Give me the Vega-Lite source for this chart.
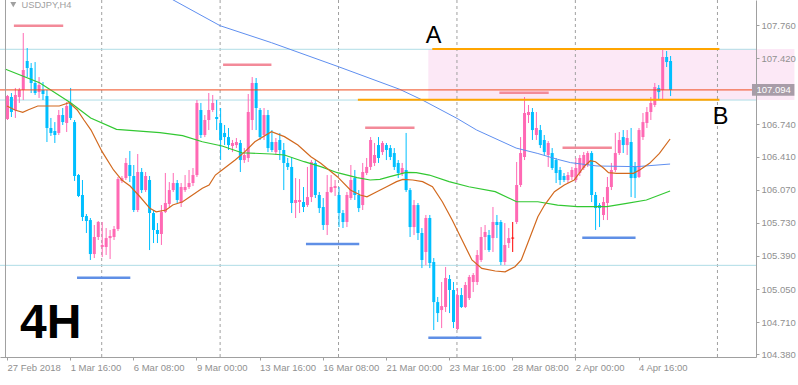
{
"$schema": "https://vega.github.io/schema/vega-lite/v6.json",
"width": 756, "height": 357,
"autosize": {"type": "none"},
"padding": {"left": 0, "top": 0, "right": 42, "bottom": 28},
"background": "white",
"config": {"view": {"stroke": null}, "font": "Liberation Sans", "axis": {"labelOverlap": false, "grid": false}},
"datasets": {
"candles": [
{"i":0,"t":"up","o":106.795,"h":107.042,"l":106.785,"c":107.031},
{"i":1,"t":"down","o":107.021,"h":107.062,"l":106.816,"c":106.867},
{"i":2,"t":"up","o":106.888,"h":107.114,"l":106.806,"c":107.042},
{"i":3,"t":"up","o":107.021,"h":107.114,"l":106.960,"c":107.093},
{"i":4,"t":"up","o":107.093,"h":107.678,"l":106.990,"c":107.298},
{"i":5,"t":"down","o":107.391,"h":107.524,"l":107.226,"c":107.319},
{"i":6,"t":"down","o":107.319,"h":107.370,"l":107.062,"c":107.165},
{"i":7,"t":"down","o":107.165,"h":107.380,"l":107.042,"c":107.062},
{"i":8,"t":"up","o":107.072,"h":107.226,"l":107.011,"c":107.144},
{"i":9,"t":"down","o":107.093,"h":107.175,"l":106.990,"c":107.052},
{"i":10,"t":"down","o":107.031,"h":107.093,"l":106.559,"c":106.703},
{"i":11,"t":"down","o":106.703,"h":106.806,"l":106.621,"c":106.652},
{"i":12,"t":"down","o":106.672,"h":106.764,"l":106.549,"c":106.631},
{"i":13,"t":"up","o":106.652,"h":106.888,"l":106.631,"c":106.836},
{"i":14,"t":"down","o":106.836,"h":106.908,"l":106.734,"c":106.764},
{"i":15,"t":"up","o":106.754,"h":106.970,"l":106.662,"c":106.929},
{"i":16,"t":"down","o":106.960,"h":107.114,"l":106.785,"c":106.806},
{"i":17,"t":"down","o":106.764,"h":106.785,"l":106.159,"c":106.210},
{"i":18,"t":"down","o":106.220,"h":106.231,"l":105.994,"c":106.005},
{"i":19,"t":"down","o":106.015,"h":106.169,"l":105.748,"c":105.789},
{"i":20,"t":"down","o":105.799,"h":105.820,"l":105.625,"c":105.748},
{"i":21,"t":"down","o":105.758,"h":105.779,"l":105.348,"c":105.409},
{"i":22,"t":"up","o":105.409,"h":105.707,"l":105.368,"c":105.584},
{"i":23,"t":"up","o":105.584,"h":105.748,"l":105.553,"c":105.738},
{"i":24,"t":"up","o":105.481,"h":105.738,"l":105.378,"c":105.502},
{"i":25,"t":"up","o":105.481,"h":105.676,"l":105.399,"c":105.573},
{"i":26,"t":"up","o":105.573,"h":105.656,"l":105.358,"c":105.594},
{"i":27,"t":"up","o":105.584,"h":105.697,"l":105.553,"c":105.666},
{"i":28,"t":"up","o":105.666,"h":106.200,"l":105.645,"c":106.179},
{"i":29,"t":"up","o":106.159,"h":106.210,"l":106.138,"c":106.189},
{"i":30,"t":"up","o":106.189,"h":106.395,"l":106.169,"c":106.344},
{"i":31,"t":"down","o":106.323,"h":106.467,"l":106.148,"c":106.210},
{"i":32,"t":"down","o":106.210,"h":106.323,"l":105.840,"c":105.861},
{"i":33,"t":"up","o":105.861,"h":106.436,"l":105.840,"c":106.251},
{"i":34,"t":"down","o":106.251,"h":106.292,"l":106.035,"c":106.066},
{"i":35,"t":"up","o":106.066,"h":106.251,"l":106.046,"c":106.210},
{"i":36,"t":"down","o":106.169,"h":106.210,"l":105.450,"c":105.830},
{"i":37,"t":"down","o":105.830,"h":105.861,"l":105.522,"c":105.656},
{"i":38,"t":"down","o":105.656,"h":105.727,"l":105.522,"c":105.615},
{"i":39,"t":"up","o":105.615,"h":105.912,"l":105.502,"c":105.840},
{"i":40,"t":"up","o":105.840,"h":106.241,"l":105.830,"c":105.933},
{"i":41,"t":"up","o":105.923,"h":106.148,"l":105.892,"c":106.066},
{"i":42,"t":"up","o":106.066,"h":106.241,"l":106.046,"c":106.138},
{"i":43,"t":"down","o":106.138,"h":106.169,"l":105.933,"c":105.964},
{"i":44,"t":"up","o":105.933,"h":106.138,"l":105.892,"c":106.097},
{"i":45,"t":"up","o":106.066,"h":106.220,"l":106.046,"c":106.097},
{"i":46,"t":"up","o":106.097,"h":106.272,"l":106.077,"c":106.138},
{"i":47,"t":"up","o":106.138,"h":106.292,"l":106.107,"c":106.220},
{"i":48,"t":"up","o":106.220,"h":106.990,"l":106.200,"c":106.960},
{"i":49,"t":"down","o":106.888,"h":106.960,"l":106.600,"c":106.631},
{"i":50,"t":"up","o":106.631,"h":106.836,"l":106.610,"c":106.785},
{"i":51,"t":"up","o":106.785,"h":107.062,"l":106.682,"c":106.888},
{"i":52,"t":"up","o":106.888,"h":107.042,"l":106.867,"c":106.960},
{"i":53,"t":"down","o":106.816,"h":106.990,"l":106.682,"c":106.795},
{"i":54,"t":"down","o":106.754,"h":106.908,"l":106.374,"c":106.580},
{"i":55,"t":"down","o":106.652,"h":106.734,"l":106.528,"c":106.610},
{"i":56,"t":"down","o":106.610,"h":106.703,"l":106.477,"c":106.528},
{"i":57,"t":"up","o":106.518,"h":106.580,"l":106.456,"c":106.549},
{"i":58,"t":"up","o":106.528,"h":106.600,"l":106.497,"c":106.559},
{"i":59,"t":"down","o":106.549,"h":106.580,"l":106.251,"c":106.374},
{"i":60,"t":"up","o":106.374,"h":106.497,"l":106.344,"c":106.426},
{"i":61,"t":"up","o":106.395,"h":107.052,"l":106.354,"c":106.867},
{"i":62,"t":"up","o":106.785,"h":107.226,"l":106.682,"c":107.165},
{"i":63,"t":"down","o":107.165,"h":107.216,"l":106.682,"c":106.908},
{"i":64,"t":"down","o":106.888,"h":106.908,"l":106.580,"c":106.610},
{"i":65,"t":"up","o":106.631,"h":106.908,"l":106.580,"c":106.836},
{"i":66,"t":"down","o":106.836,"h":106.888,"l":106.456,"c":106.497},
{"i":67,"t":"down","o":106.559,"h":106.682,"l":106.456,"c":106.477},
{"i":68,"t":"up","o":106.456,"h":106.600,"l":106.426,"c":106.559},
{"i":69,"t":"down","o":106.580,"h":106.652,"l":106.374,"c":106.477},
{"i":70,"t":"down","o":106.477,"h":106.549,"l":106.066,"c":106.344},
{"i":71,"t":"down","o":106.344,"h":106.395,"l":106.272,"c":106.303},
{"i":72,"t":"down","o":106.303,"h":106.405,"l":105.830,"c":105.933},
{"i":73,"t":"up","o":105.933,"h":106.189,"l":105.779,"c":105.964},
{"i":74,"t":"up","o":105.943,"h":106.179,"l":105.830,"c":105.964},
{"i":75,"t":"down","o":105.943,"h":106.097,"l":105.840,"c":105.892},
{"i":76,"t":"up","o":105.912,"h":106.303,"l":105.892,"c":105.994},
{"i":77,"t":"up","o":105.994,"h":106.374,"l":105.943,"c":106.354},
{"i":78,"t":"down","o":106.344,"h":106.374,"l":105.984,"c":106.015},
{"i":79,"t":"down","o":106.015,"h":106.046,"l":105.830,"c":105.881},
{"i":80,"t":"down","o":105.892,"h":105.984,"l":105.656,"c":105.707},
{"i":81,"t":"up","o":105.707,"h":106.220,"l":105.604,"c":106.046},
{"i":82,"t":"up","o":106.046,"h":106.220,"l":106.035,"c":106.097},
{"i":83,"t":"up","o":106.087,"h":106.169,"l":106.005,"c":106.107},
{"i":84,"t":"down","o":106.015,"h":106.097,"l":105.686,"c":105.830},
{"i":85,"t":"down","o":105.830,"h":105.861,"l":105.676,"c":105.738},
{"i":86,"t":"up","o":105.738,"h":106.046,"l":105.686,"c":106.015},
{"i":87,"t":"up","o":105.984,"h":106.323,"l":105.964,"c":106.169},
{"i":88,"t":"down","o":106.189,"h":106.272,"l":105.964,"c":106.015},
{"i":89,"t":"down","o":106.015,"h":106.066,"l":105.840,"c":105.881},
{"i":90,"t":"up","o":105.912,"h":106.344,"l":105.861,"c":106.251},
{"i":91,"t":"up","o":106.241,"h":106.395,"l":106.220,"c":106.303},
{"i":92,"t":"up","o":106.303,"h":106.610,"l":106.272,"c":106.580},
{"i":93,"t":"up","o":106.344,"h":106.549,"l":106.313,"c":106.426},
{"i":94,"t":"down","o":106.528,"h":106.610,"l":106.344,"c":106.395},
{"i":95,"t":"up","o":106.456,"h":106.569,"l":106.426,"c":106.549},
{"i":96,"t":"down","o":106.528,"h":106.549,"l":106.374,"c":106.477},
{"i":97,"t":"down","o":106.497,"h":106.528,"l":106.374,"c":106.405},
{"i":98,"t":"down","o":106.446,"h":106.497,"l":106.272,"c":106.303},
{"i":99,"t":"down","o":106.344,"h":106.374,"l":106.189,"c":106.241},
{"i":100,"t":"up","o":106.241,"h":106.344,"l":106.210,"c":106.292},
{"i":101,"t":"down","o":106.272,"h":106.652,"l":106.046,"c":106.066},
{"i":102,"t":"down","o":106.066,"h":106.087,"l":105.584,"c":105.686},
{"i":103,"t":"up","o":105.686,"h":105.964,"l":105.604,"c":105.912},
{"i":104,"t":"down","o":105.912,"h":105.933,"l":105.553,"c":105.625},
{"i":105,"t":"down","o":105.625,"h":105.676,"l":105.265,"c":105.348},
{"i":106,"t":"up","o":105.430,"h":105.810,"l":105.296,"c":105.779},
{"i":107,"t":"down","o":105.779,"h":105.810,"l":105.265,"c":105.317},
{"i":108,"t":"down","o":105.327,"h":105.368,"l":104.629,"c":104.916},
{"i":109,"t":"down","o":104.916,"h":104.968,"l":104.711,"c":104.803},
{"i":110,"t":"up","o":104.834,"h":105.122,"l":104.649,"c":104.875},
{"i":111,"t":"up","o":104.865,"h":105.276,"l":104.814,"c":105.163},
{"i":112,"t":"down","o":105.153,"h":105.194,"l":104.803,"c":105.040},
{"i":113,"t":"down","o":105.040,"h":105.122,"l":104.649,"c":104.711},
{"i":114,"t":"up","o":104.639,"h":105.060,"l":104.629,"c":104.988},
{"i":115,"t":"down","o":104.988,"h":105.060,"l":104.855,"c":104.865},
{"i":116,"t":"up","o":104.865,"h":105.122,"l":104.855,"c":105.091},
{"i":117,"t":"up","o":104.957,"h":105.194,"l":104.937,"c":105.173},
{"i":118,"t":"up","o":105.122,"h":105.214,"l":105.019,"c":105.194},
{"i":119,"t":"up","o":105.122,"h":105.450,"l":105.091,"c":105.399},
{"i":120,"t":"up","o":105.348,"h":105.686,"l":105.327,"c":105.584},
{"i":121,"t":"up","o":105.584,"h":105.707,"l":105.450,"c":105.635},
{"i":122,"t":"down","o":105.604,"h":105.656,"l":105.430,"c":105.450},
{"i":123,"t":"up","o":105.573,"h":105.892,"l":105.430,"c":105.738},
{"i":124,"t":"down","o":105.738,"h":105.810,"l":105.573,"c":105.707},
{"i":125,"t":"down","o":105.738,"h":105.758,"l":105.296,"c":105.327},
{"i":126,"t":"up","o":105.327,"h":105.727,"l":105.296,"c":105.502},
{"i":127,"t":"up","o":105.522,"h":105.676,"l":105.471,"c":105.573},
{"i":128,"t":"doji","o":105.578,"h":105.738,"l":105.430,"c":105.568},
{"i":129,"t":"up","o":105.738,"h":106.354,"l":105.717,"c":106.118},
{"i":130,"t":"up","o":106.118,"h":106.610,"l":106.097,"c":106.446},
{"i":131,"t":"up","o":106.405,"h":107.021,"l":106.374,"c":106.857},
{"i":132,"t":"up","o":106.836,"h":106.939,"l":106.754,"c":106.867},
{"i":133,"t":"down","o":106.867,"h":106.908,"l":106.580,"c":106.682},
{"i":134,"t":"up","o":106.631,"h":106.867,"l":106.580,"c":106.703},
{"i":135,"t":"down","o":106.682,"h":106.734,"l":106.497,"c":106.528},
{"i":136,"t":"down","o":106.580,"h":106.631,"l":106.426,"c":106.456},
{"i":137,"t":"up","o":106.426,"h":106.569,"l":106.303,"c":106.549},
{"i":138,"t":"down","o":106.446,"h":106.497,"l":106.272,"c":106.292},
{"i":139,"t":"down","o":106.374,"h":106.395,"l":106.138,"c":106.241},
{"i":140,"t":"down","o":106.272,"h":106.303,"l":106.118,"c":106.169},
{"i":141,"t":"down","o":106.210,"h":106.241,"l":106.148,"c":106.169},
{"i":142,"t":"up","o":106.169,"h":106.251,"l":106.138,"c":106.220},
{"i":143,"t":"up","o":106.200,"h":106.303,"l":106.169,"c":106.272},
{"i":144,"t":"up","o":106.169,"h":106.395,"l":106.148,"c":106.292},
{"i":145,"t":"up","o":106.241,"h":106.426,"l":106.210,"c":106.395},
{"i":146,"t":"up","o":106.292,"h":106.456,"l":106.272,"c":106.426},
{"i":147,"t":"up","o":106.323,"h":106.466,"l":106.303,"c":106.446},
{"i":148,"t":"down","o":106.446,"h":106.466,"l":105.943,"c":106.015},
{"i":149,"t":"down","o":106.015,"h":106.046,"l":105.656,"c":105.881},
{"i":150,"t":"down","o":105.912,"h":105.933,"l":105.686,"c":105.881},
{"i":151,"t":"up","o":105.810,"h":105.994,"l":105.758,"c":105.943},
{"i":152,"t":"up","o":105.933,"h":106.200,"l":105.758,"c":106.097},
{"i":153,"t":"up","o":106.097,"h":106.344,"l":106.066,"c":106.272},
{"i":154,"t":"up","o":106.272,"h":106.652,"l":106.251,"c":106.446},
{"i":155,"t":"up","o":106.446,"h":106.662,"l":106.426,"c":106.580},
{"i":156,"t":"down","o":106.610,"h":106.682,"l":106.446,"c":106.528},
{"i":157,"t":"up","o":106.528,"h":106.682,"l":106.426,"c":106.600},
{"i":158,"t":"down","o":106.559,"h":106.703,"l":105.994,"c":106.189},
{"i":159,"t":"down","o":106.313,"h":106.354,"l":105.984,"c":106.189},
{"i":160,"t":"up","o":106.200,"h":106.703,"l":106.189,"c":106.682},
{"i":161,"t":"up","o":106.610,"h":106.857,"l":106.580,"c":106.764},
{"i":162,"t":"up","o":106.754,"h":106.918,"l":106.703,"c":106.867},
{"i":163,"t":"up","o":106.867,"h":107.021,"l":106.785,"c":106.960},
{"i":164,"t":"up","o":106.939,"h":107.165,"l":106.918,"c":107.124},
{"i":165,"t":"down","o":107.114,"h":107.144,"l":106.990,"c":107.072},
{"i":166,"t":"up","o":107.093,"h":107.514,"l":106.990,"c":107.432},
{"i":167,"t":"down","o":107.432,"h":107.493,"l":107.329,"c":107.380},
{"i":168,"t":"down","o":107.391,"h":107.442,"l":107.031,"c":107.094}
],
"maBlue": [
{"i":37,"v":108.14},{"i":42,"v":108.02},{"i":54,"v":107.753},{"i":67,"v":107.579},{"i":84,"v":107.332},{"i":99.5,"v":107.1},{"i":105.25,"v":106.99},{"i":114,"v":106.802},{"i":119,"v":106.682},{"i":129,"v":106.497},{"i":134.5,"v":106.441},{"i":139.5,"v":106.381},{"i":142.8,"v":106.347},{"i":149.5,"v":106.313},{"i":159.5,"v":106.306},{"i":168,"v":106.333}
],
"maGreen": [
{"i":-0.5,"v":107.309},{"i":8.25,"v":107.168},{"i":16.2,"v":106.96},{"i":21.2,"v":106.806},{"i":27.75,"v":106.689},{"i":38.75,"v":106.655},{"i":44.5,"v":106.624},{"i":49.5,"v":106.562},{"i":54.5,"v":106.518},{"i":59.5,"v":106.449},{"i":67,"v":106.436},{"i":70.3,"v":106.426},{"i":75.3,"v":106.357},{"i":79.5,"v":106.306},{"i":83.7,"v":106.244},{"i":88.7,"v":106.193},{"i":92,"v":106.169},{"i":94.5,"v":106.176},{"i":97,"v":106.203},{"i":101.2,"v":106.248},{"i":103.7,"v":106.244},{"i":107,"v":106.22},{"i":112,"v":106.152},{"i":117,"v":106.1},{"i":123.7,"v":106.049},{"i":129.1,"v":105.946},{"i":134.5,"v":105.946},{"i":139.5,"v":105.912},{"i":144.5,"v":105.895},{"i":152,"v":105.895},{"i":157,"v":105.93},{"i":162,"v":105.964},{"i":168,"v":106.056}
],
"maOrange": [
{"i":0,"v":106.929},{"i":2,"v":106.888},{"i":4,"v":106.864},{"i":5.3,"v":106.888},{"i":7.8,"v":106.929},{"i":13.25,"v":106.929},{"i":15.75,"v":106.963},{"i":17.8,"v":106.888},{"i":19.5,"v":106.785},{"i":21.3,"v":106.682},{"i":24.1,"v":106.46},{"i":27,"v":106.272},{"i":29.1,"v":106.169},{"i":31.2,"v":106.107},{"i":33.7,"v":105.997},{"i":36.2,"v":105.878},{"i":37.8,"v":105.843},{"i":40.3,"v":105.861},{"i":42,"v":105.912},{"i":44.5,"v":105.946},{"i":47,"v":106.015},{"i":49.5,"v":106.084},{"i":51.2,"v":106.118},{"i":52.8,"v":106.22},{"i":54.5,"v":106.272},{"i":57.8,"v":106.374},{"i":60.3,"v":106.46},{"i":62.8,"v":106.562},{"i":67,"v":106.665},{"i":70.3,"v":106.614},{"i":73.7,"v":106.528},{"i":77,"v":106.408},{"i":79.5,"v":106.34},{"i":83.7,"v":106.203},{"i":87,"v":106.066},{"i":89.5,"v":106.015},{"i":91.2,"v":105.997},{"i":93.7,"v":106.049},{"i":96.2,"v":106.1},{"i":98.7,"v":106.152},{"i":100.3,"v":106.176},{"i":102.8,"v":106.169},{"i":105.3,"v":106.152},{"i":107.8,"v":106.1},{"i":110.3,"v":105.946},{"i":112.8,"v":105.758},{"i":115.3,"v":105.553},{"i":117.8,"v":105.348},{"i":120.3,"v":105.262},{"i":123.7,"v":105.235},{"i":126.2,"v":105.227},{"i":128.7,"v":105.279},{"i":130.3,"v":105.348},{"i":134.5,"v":105.792},{"i":136.2,"v":105.912},{"i":138.7,"v":106.049},{"i":141.2,"v":106.118},{"i":143.7,"v":106.169},{"i":146.2,"v":106.306},{"i":147.8,"v":106.367},{"i":149.1,"v":106.357},{"i":151.2,"v":106.289},{"i":152.4,"v":106.244},{"i":154.5,"v":106.238},{"i":158.7,"v":106.238},{"i":160.3,"v":106.272},{"i":162.8,"v":106.34},{"i":165.3,"v":106.443},{"i":168,"v":106.59}
]
},
"layer": [
{"data": {"name": "candles"},
 "mark": {"type": "rule", "opacity": 0},
 "encoding": {
  "x": {"field": "i", "type": "quantitative", "title": null, "scale": {"domain": [-0.5, 188.5], "nice": false, "zero": false},
   "axis": {"orient": "bottom", "title": null, "grid": false, "values": [0, 16, 32, 48, 64, 80, 96, 112, 128, 144, 160], "tickCount": 40,
    "labelExpr": "datum.value == 0 ? '27 Feb 2018' : datum.value == 16 ? '1 Mar 16:00' : datum.value == 32 ? '6 Mar 08:00' : datum.value == 48 ? '9 Mar 00:00' : datum.value == 64 ? '13 Mar 16:00' : datum.value == 80 ? '16 Mar 08:00' : datum.value == 96 ? '21 Mar 00:00' : datum.value == 112 ? '23 Mar 16:00' : datum.value == 128 ? '28 Mar 08:00' : datum.value == 144 ? '2 Apr 00:00' : '4 Apr 16:00'",
    "labelAlign": "left", "labelBaseline": "top", "labelPadding": 2, "labelFont": "Liberation Sans", "labelFontSize": 9.5, "labelColor": "#909090",
    "labelFlush": false, "labelOverlap": false, "labelBound": false, "tickSize": 3, "tickColor": "#a0a0a0", "domainColor": "#a0a0a0", "zindex": 1}},
  "y": {"field": "l", "type": "quantitative", "title": null, "scale": {"domain": [104.352, 108.017], "nice": false, "zero": false},
   "axis": {"orient": "right", "title": null, "grid": false, "values": [107.76, 107.42, 106.74, 106.41, 106.07, 105.73, 105.39, 105.05, 104.71, 104.38], "tickCount": 40,
    "format": ".3f", "labelFont": "Liberation Sans", "labelFontSize": 9.5, "labelColor": "#909090", "labelPadding": 2, "labelBaseline": "middle",
    "labelFlush": false, "labelOverlap": false, "tickSize": 3, "tickColor": "#a0a0a0", "domainColor": "#a0a0a0", "zindex": 1}},
  "y2": {"field": "h"}}},
{"data": {"values": [{"a": 106.75, "b": 199.5, "top": 107.514, "bot": 106.99}]},
 "mark": {"type": "rect", "color": "#fce8f6", "clip": false},
 "encoding": {
  "x": {"field": "a", "type": "quantitative", "title": null, "scale": {"domain": [-0.5, 188.5], "nice": false, "zero": false}},
  "x2": {"field": "b"},
  "y": {"field": "top", "type": "quantitative", "title": null, "scale": {"domain": [104.352, 108.017], "nice": false, "zero": false}},
  "y2": {"field": "bot"}}},
{"data": {"values": [{"i": 24}, {"i": 54}, {"i": 84}, {"i": 114}, {"i": 144}, {"i": 180}]},
 "mark": {"type": "rule", "color": "#a0a0a0", "strokeDash": [3, 3], "strokeWidth": 1},
 "encoding": {
  "x": {"field": "i", "type": "quantitative", "title": null, "scale": {"domain": [-0.5, 188.5], "nice": false, "zero": false}}}},
{"data": {"values": [{"p": 107.511}, {"p": 106.99}, {"p": 105.293}]},
 "mark": {"type": "rule", "color": "#afdde6", "strokeWidth": 1},
 "encoding": {
  "y": {"field": "p", "type": "quantitative", "title": null, "scale": {"domain": [104.352, 108.017], "nice": false, "zero": false}}}},
{"data": {"name": "candles"},
 "mark": {"type": "rule", "strokeWidth": 1, "xOffset": 0.5},
 "encoding": {
  "x": {"field": "i", "type": "quantitative", "title": null, "scale": {"domain": [-0.5, 188.5], "nice": false, "zero": false}},
  "y": {"field": "l", "type": "quantitative", "title": null, "scale": {"domain": [104.352, 108.017], "nice": false, "zero": false}},
  "y2": {"field": "h"},
  "color": {"field": "t", "type": "nominal", "scale": {"domain": ["up", "down", "doji"], "range": ["#ff69b4", "#00bfff", "#ff0000"]}, "legend": null}}},
{"data": {"name": "candles"},
 "mark": {"type": "bar", "width": 3, "orient": "vertical", "xOffset": 0.5},
 "encoding": {
  "x": {"field": "i", "type": "quantitative", "title": null, "scale": {"domain": [-0.5, 188.5], "nice": false, "zero": false}},
  "y": {"field": "o", "type": "quantitative", "title": null, "scale": {"domain": [104.352, 108.017], "nice": false, "zero": false}},
  "y2": {"field": "c"},
  "color": {"field": "t", "type": "nominal", "scale": {"domain": ["up", "down", "doji"], "range": ["#ff69b4", "#00bfff", "#ff0000"]}, "legend": null}}},
{"data": {"name": "maBlue"},
 "mark": {"type": "line", "color": "#5f8ff0", "strokeWidth": 1, "clip": true},
 "encoding": {
  "x": {"field": "i", "type": "quantitative", "title": null, "scale": {"domain": [-0.5, 188.5], "nice": false, "zero": false}},
  "y": {"field": "v", "type": "quantitative", "title": null, "scale": {"domain": [104.352, 108.017], "nice": false, "zero": false}}}},
{"data": {"name": "maGreen"},
 "mark": {"type": "line", "color": "#32c832", "strokeWidth": 1.2, "clip": true},
 "encoding": {
  "x": {"field": "i", "type": "quantitative", "title": null, "scale": {"domain": [-0.5, 188.5], "nice": false, "zero": false}},
  "y": {"field": "v", "type": "quantitative", "title": null, "scale": {"domain": [104.352, 108.017], "nice": false, "zero": false}}}},
{"data": {"name": "maOrange"},
 "mark": {"type": "line", "color": "#d2691e", "strokeWidth": 1.2, "clip": true},
 "encoding": {
  "x": {"field": "i", "type": "quantitative", "title": null, "scale": {"domain": [-0.5, 188.5], "nice": false, "zero": false}},
  "y": {"field": "v", "type": "quantitative", "title": null, "scale": {"domain": [104.352, 108.017], "nice": false, "zero": false}}}},
{"data": {"values": [{"p": 107.094}]},
 "mark": {"type": "rule", "color": "#f04a1c", "strokeWidth": 1},
 "encoding": {
  "y": {"field": "p", "type": "quantitative", "title": null, "scale": {"domain": [104.352, 108.017], "nice": false, "zero": false}}}},
{"data": {"values": [{"a": 107.75, "b": 180.5, "p": 107.514}, {"a": 88.9, "b": 180.5, "p": 106.993}]},
 "mark": {"type": "rule", "color": "#ffa500", "strokeWidth": 2.2},
 "encoding": {
  "x": {"field": "a", "type": "quantitative", "title": null, "scale": {"domain": [-0.5, 188.5], "nice": false, "zero": false}},
  "x2": {"field": "b"},
  "y": {"field": "p", "type": "quantitative", "title": null, "scale": {"domain": [104.352, 108.017], "nice": false, "zero": false}}}},
{"data": {"values": [{"a": 1.75, "b": 14.25, "p": 107.753}, {"a": 54.75, "b": 67, "p": 107.353}, {"a": 90.75, "b": 103.25, "p": 106.706}, {"a": 124.75, "b": 137.25, "p": 107.065}, {"a": 140.75, "b": 153.25, "p": 106.5}]},
 "mark": {"type": "rule", "color": "#f38a99", "strokeWidth": 2.5},
 "encoding": {
  "x": {"field": "a", "type": "quantitative", "title": null, "scale": {"domain": [-0.5, 188.5], "nice": false, "zero": false}},
  "x2": {"field": "b"},
  "y": {"field": "p", "type": "quantitative", "title": null, "scale": {"domain": [104.352, 108.017], "nice": false, "zero": false}}}},
{"data": {"values": [{"a": 17.75, "b": 31.25, "p": 105.166}, {"a": 75.75, "b": 89.25, "p": 105.512}, {"a": 106.75, "b": 120.2, "p": 104.55}, {"a": 145.75, "b": 159.25, "p": 105.577}]},
 "mark": {"type": "rule", "color": "#5f8fe6", "strokeWidth": 2.5},
 "encoding": {
  "x": {"field": "a", "type": "quantitative", "title": null, "scale": {"domain": [-0.5, 188.5], "nice": false, "zero": false}},
  "x2": {"field": "b"},
  "y": {"field": "p", "type": "quantitative", "title": null, "scale": {"domain": [104.352, 108.017], "nice": false, "zero": false}}}},
{"data": {"values": [{"i": -0.375}]},
 "mark": {"type": "rule", "color": "#a0a0a0", "strokeWidth": 1},
 "encoding": {
  "x": {"field": "i", "type": "quantitative", "title": null, "scale": {"domain": [-0.5, 188.5], "nice": false, "zero": false}}}},
{"data": {"values": [{"i": 1.6, "p": 107.969}]},
 "mark": {"type": "point", "shape": "triangle-down", "size": 35, "filled": true, "color": "#a0a0a0", "opacity": 1},
 "encoding": {
  "x": {"field": "i", "type": "quantitative", "title": null, "scale": {"domain": [-0.5, 188.5], "nice": false, "zero": false}},
  "y": {"field": "p", "type": "quantitative", "title": null, "scale": {"domain": [104.352, 108.017], "nice": false, "zero": false}}}},
{"data": {"values": [{"i": 3.675, "p": 107.932, "s": "USDJPY,H4"}]},
 "mark": {"type": "text", "align": "left", "baseline": "alphabetic", "font": "Liberation Sans", "fontSize": 9.3, "color": "#a0a0a0"},
 "encoding": {
  "x": {"field": "i", "type": "quantitative", "title": null, "scale": {"domain": [-0.5, 188.5], "nice": false, "zero": false}},
  "y": {"field": "p", "type": "quantitative", "title": null, "scale": {"domain": [104.352, 108.017], "nice": false, "zero": false}},
  "text": {"field": "s"}}},
{"data": {"values": [{"i": 3.3, "p": 104.547, "s": "4H"}]},
 "mark": {"type": "text", "align": "left", "baseline": "alphabetic", "font": "Liberation Sans", "fontSize": 48, "fontWeight": "bold", "color": "#000000"},
 "encoding": {
  "x": {"field": "i", "type": "quantitative", "title": null, "scale": {"domain": [-0.5, 188.5], "nice": false, "zero": false}},
  "y": {"field": "p", "type": "quantitative", "title": null, "scale": {"domain": [104.352, 108.017], "nice": false, "zero": false}},
  "text": {"field": "s"}}},
{"data": {"values": [{"i": 106.1, "p": 107.579, "s": "A"}, {"i": 178.8, "p": 106.739, "s": "B"}]},
 "mark": {"type": "text", "align": "left", "baseline": "alphabetic", "font": "Liberation Sans", "fontSize": 23.5, "color": "#000000"},
 "encoding": {
  "x": {"field": "i", "type": "quantitative", "title": null, "scale": {"domain": [-0.5, 188.5], "nice": false, "zero": false}},
  "y": {"field": "p", "type": "quantitative", "title": null, "scale": {"domain": [104.352, 108.017], "nice": false, "zero": false}},
  "text": {"field": "s"}}},
{"data": {"values": [{"a": 188.75, "b": 199.5, "top": 107.155, "bot": 107.033}]},
 "mark": {"type": "rect", "color": "#a89ca8", "clip": false},
 "encoding": {
  "x": {"field": "a", "type": "quantitative", "title": null, "scale": {"domain": [-0.5, 188.5], "nice": false, "zero": false}},
  "x2": {"field": "b"},
  "y": {"field": "top", "type": "quantitative", "title": null, "scale": {"domain": [104.352, 108.017], "nice": false, "zero": false}},
  "y2": {"field": "bot"}}},
{"data": {"values": [{"i": 189.9, "p": 107.094, "s": "107.094"}]},
 "mark": {"type": "text", "align": "left", "baseline": "middle", "font": "Liberation Sans", "fontSize": 9.5, "color": "#ffffff"},
 "encoding": {
  "x": {"field": "i", "type": "quantitative", "title": null, "scale": {"domain": [-0.5, 188.5], "nice": false, "zero": false}},
  "y": {"field": "p", "type": "quantitative", "title": null, "scale": {"domain": [104.352, 108.017], "nice": false, "zero": false}},
  "text": {"field": "s"}}}
]
}
